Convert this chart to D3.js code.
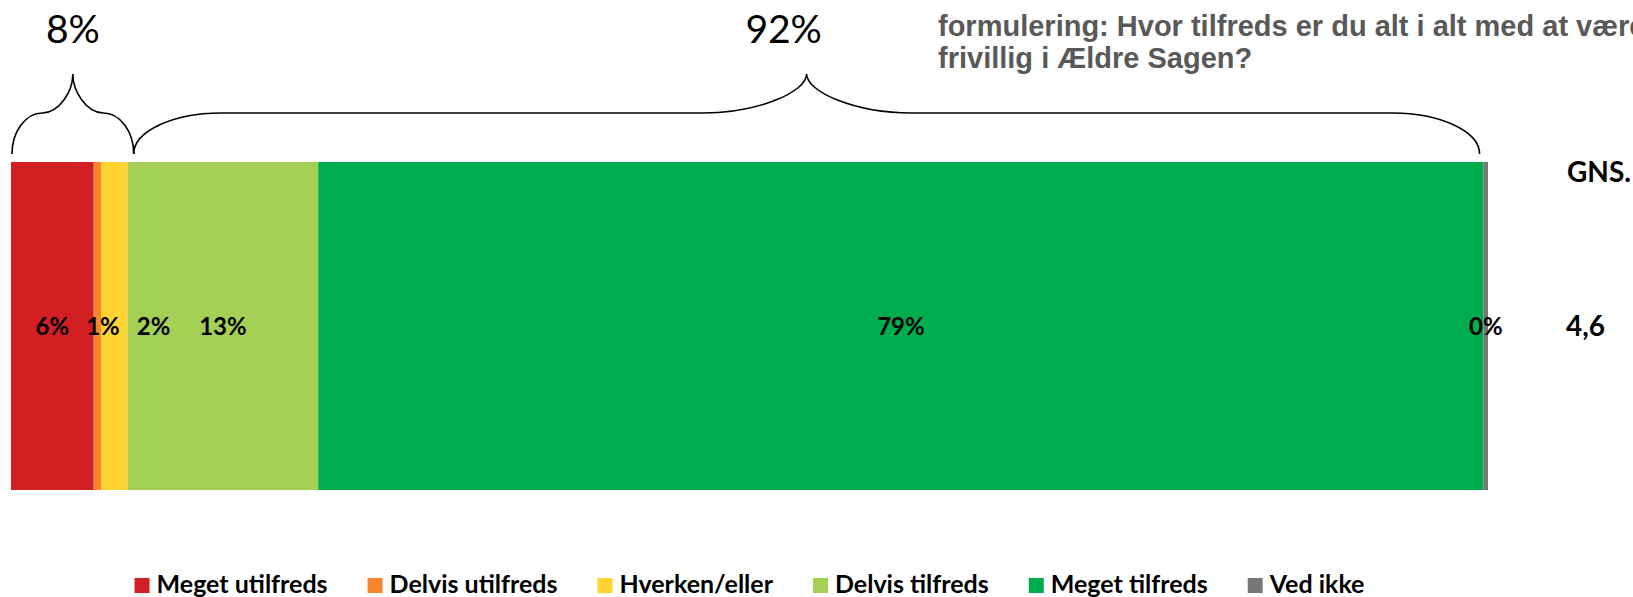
<!DOCTYPE html>
<html>
<head>
<meta charset="utf-8">
<script src="https://cdn.jsdelivr.net/npm/d3@7/dist/d3.min.js"></script>
<style>
  html, body { margin: 0; padding: 0; background: #fff; overflow: hidden; }
  svg { display: block; }
</style>
</head>
<body>
<svg id="chart" width="1633" height="597"></svg>
<script>
// ---- data ----
const categories = ["Meget utilfreds", "Delvis utilfreds", "Hverken/eller", "Delvis tilfreds", "Meget tilfreds", "Ved ikke"];
const values = [5.6, 0.5, 1.8, 12.9, 78.9, 0.3];
const colors = ["#D21F24", "#F7862E", "#FFD430", "#A3D055", "#00AD4E", "#777777"];
const groups = [
  { label: "8%", from: 0, to: 2 },
  { label: "92%", from: 3, to: 4 }
];
const meanLabel = "GNS.";
const meanValue = "4,6";
const titleLines = ["formulering: Hvor tilfreds er du alt i alt med at være", "frivillig i Ældre Sagen?"];

// ---- layout ----
const W = 1633, H = 597;
const svg = d3.select("#chart");
const x = d3.scaleLinear().domain([0, 100]).range([11, 1488]);
const barTop = 162, barBottom = 490;
const y = d3.scaleBand().domain(["row"]).range([barTop, barBottom]).padding(0);

let acc = 0;
const segs = values.map((v, i) => {
  const s = { cat: categories[i], v, start: acc, end: acc + v, color: colors[i] };
  acc += v;
  return s;
});

// bars
svg.append("g").selectAll("rect").data(segs).join("rect")
  .attr("x", d => x(d.start))
  .attr("y", y("row"))
  .attr("width", d => x(d.end) - x(d.start))
  .attr("height", y.bandwidth())
  .attr("fill", d => d.color);

// value labels
const labelFont = "Lato, 'Open Sans', sans-serif";
const lblG = svg.append("g");
const yMid = y("row") + y.bandwidth() / 2;
let prevRight = -Infinity;
segs.forEach(d => {
  const t = lblG.append("text")
    .attr("y", yMid)
    .attr("dy", "0.36em")
    .attr("text-anchor", "middle")
    .attr("font-family", labelFont)
    .attr("font-weight", "bold")
    .attr("font-size", 24)
    .attr("fill", "#000")
    .text(Math.round(d.v) + "%");
  const w = t.node().getComputedTextLength();
  let cx = (x(d.start) + x(d.end)) / 2;
  if (cx - w / 2 < prevRight + 17) cx = prevRight + 17 + w / 2;
  t.attr("x", cx);
  prevRight = cx + w / 2;
});

// braces
function bracePath(x0, x1, yb, yt, qEnd, qPeak) {
  const k = 0.55;
  const ym = (yb + yt) / 2 - 1;
  const xp = (x0 + x1) / 2;
  const half = (x1 - x0) / 2;
  const q = Math.min(qEnd, half / 2), q2 = Math.min(qPeak, half / 2);
  return `M${x0},${yb}` +
    `C${x0},${yb - k * (yb - ym)} ${x0 + q * (1 - k)},${ym} ${x0 + q},${ym}` +
    `L${xp - q2},${ym}` +
    `C${xp - q2 * (1 - k)},${ym} ${xp},${ym - k * (ym - yt)} ${xp},${yt}` +
    `C${xp},${ym - k * (ym - yt)} ${xp + q2 * (1 - k)},${ym} ${xp + q2},${ym}` +
    `L${x1 - q},${ym}` +
    `C${x1 - q * (1 - k)},${ym} ${x1},${yb - k * (yb - ym)} ${x1},${yb}`;
}
const braceG = svg.append("g");
const bx = [x(segs[0].start) + 1, x(segs[2].end) + 6, x(segs[4].end) - 4];
const braceDefs = [
  { g: groups[0], x0: bx[0], x1: bx[1], dx: 0 },
  { g: groups[1], x0: bx[1], x1: bx[2], dx: -23 }
];
braceDefs.forEach(b => {
  braceG.append("path")
    .attr("d", bracePath(b.x0, b.x1, 154, 74, 87, 105))
    .attr("fill", "none")
    .attr("stroke", "#000")
    .attr("stroke-width", 1.6);
  braceG.append("text")
    .attr("x", (b.x0 + b.x1) / 2 + b.dx)
    .attr("y", 43)
    .attr("text-anchor", "middle")
    .attr("font-family", labelFont)
    .attr("font-size", 39)
    .attr("fill", "#000")
    .text(b.g.label);
});

// mean
svg.append("text").attr("x", 1567).attr("y", 182)
  .attr("font-family", labelFont).attr("font-weight", "bold").attr("font-size", 28)
  .text(meanLabel);
svg.append("text").attr("x", 1566).attr("y", yMid).attr("dy", "0.36em")
  .attr("font-family", labelFont).attr("font-weight", "bold").attr("font-size", 28)
  .text(meanValue);

// title
svg.append("g").selectAll("text").data(titleLines).join("text")
  .attr("x", 938)
  .attr("y", (d, i) => 36 + i * 32)
  .attr("font-family", "'Liberation Sans', Arial, sans-serif")
  .attr("font-weight", "bold")
  .attr("font-size", 29)
  .attr("fill", "#595959")
  .text(d => d);

// legend
const legG = svg.append("g");
let lx = 0;
categories.forEach((c, i) => {
  const g = legG.append("g");
  g.append("rect").attr("x", 0).attr("y", -15).attr("width", 15).attr("height", 15).attr("fill", colors[i]);
  const t = g.append("text").attr("x", 22).attr("y", 0)
    .attr("font-family", labelFont).attr("font-weight", "bold").attr("font-size", 25)
    .attr("fill", "#000").text(c);
  const w = 22 + t.node().getComputedTextLength();
  g.attr("transform", `translate(${lx},0)`);
  lx += w + 40;
});
const legW = lx - 40;
const legCenter = (x(0) + x(100)) / 2;
legG.attr("transform", `translate(${legCenter - legW / 2},593)`);
</script>
</body>
</html>
